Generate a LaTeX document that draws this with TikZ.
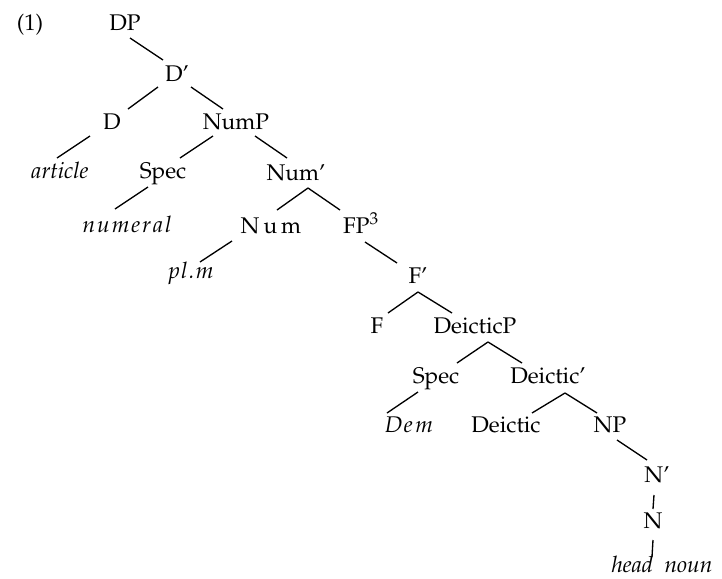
\documentclass[tikz,border=0pt]{standalone}
\usepackage[T1]{fontenc}
\usepackage{mathpazo}
\begin{document}
\begin{tikzpicture}[x=0.75pt,y=-0.75pt,line width=1pt,
    every node/.style={anchor=base,inner sep=0pt,font=\fontsize{17}{20}\selectfont}]
    \useasboundingbox (0,0) rectangle (722,579);
    % labels, placed at their baselines
    \node (ex) at (30,30) {(1)};
    \node (dp) at (125,30) {DP};
    \node (dbar) at (177,81) {D'};
    \node (d) at (112,129) {D};
    \node (nump) at (236,129) {NumP};
    \node (art) at (60,178) {\textit{article}};
    \node (specA) at (163,178) {Spec};
    \node (numbar) at (296,180) {Num'};
    \node (numeral) at (127,232) {\textit{n\kern1.5pt u\kern1.5pt m\kern1.5pt e\kern1.5pt r\kern1.5pt a\kern1.5pt l}};
    \node (num) at (271,233) {N\kern3pt u\kern3pt m};
    \node (fp) at (361,233) {FP$^{3}$};
    \node (plm) at (191,278) {\textit{p\kern1pt l\kern1pt .\kern1pt m}};
    \node (fbar) at (418,283) {F'};
    \node (f) at (377,333) {F};
    \node (deicp) at (475,333) {DeicticP};
    \node (specB) at (436,383) {Spec};
    \node (deicbar) at (548,383) {Deictic'};
    \node (dem) at (409,432) {\textit{D\kern1pt e\kern2pt m}};
    \node (deic) at (506,432) {Deictic};
    \node (np) at (610,432) {NP};
    \node (nbar) at (657,482) {N'};
    \node (n) at (653,528) {N};
    \node (head) at (662,572) {\textit{head\enspace noun}};
    % branches
    \draw ([shift={(5,8)}]dp.base) -- ([shift={(-14,-21)}]dbar.base);
    \draw ([shift={(-19,6)}]dbar.base) -- ([shift={(16,-20)}]d.base);
    \draw ([shift={(14,6)}]dbar.base) -- ([shift={(-13,-20)}]nump.base);
    \draw ([shift={(-22,7)}]d.base) -- ([shift={(-3,-20)}]art.base);
    \draw ([shift={(-23,7)}]nump.base) -- ([shift={(17,-20)}]specA.base);
    \draw ([shift={(19,7)}]nump.base) -- ([shift={(-9,-22)}]numbar.base);
    \draw ([shift={(-15,9)}]specA.base) -- ([shift={(-12,-23)}]numeral.base);
    \draw ([shift={(12,8)}]numbar.base) -- ([shift={(6,-23)}]num.base);
    \draw ([shift={(12,8)}]numbar.base) -- ([shift={(-21,-23)}]fp.base);
    \draw ([shift={(-39,8)}]num.base) -- ([shift={(9,-16)}]plm.base);
    \draw ([shift={(4,9)}]fp.base) -- ([shift={(-21,-20)}]fbar.base);
    \draw ([shift={(0,9)}]fbar.base) -- ([shift={(11,-20)}]f.base);
    \draw ([shift={(0,9)}]fbar.base) -- ([shift={(-23,-20)}]deicp.base);
    \draw ([shift={(13,9)}]deicp.base) -- ([shift={(21,-20)}]specB.base);
    \draw ([shift={(13,9)}]deicp.base) -- ([shift={(-26,-20)}]deicbar.base);
    \draw ([shift={(-18,9)}]specB.base) -- ([shift={(-22,-19)}]dem.base);
    \draw ([shift={(17,10)}]deicbar.base) -- ([shift={(26,-19)}]deic.base);
    \draw ([shift={(17,10)}]deicbar.base) -- ([shift={(-13,-19)}]np.base);
    \draw ([shift={(7,8)}]np.base) -- ([shift={(-10,-22)}]nbar.base);
    \draw ([shift={(-3,13)}]nbar.base) -- ([shift={(0,-19)}]n.base);
    \draw ([shift={(0,12)}]n.base) -- ([shift={(-10,-15)}]head.base);
\end{tikzpicture}
\end{document}
